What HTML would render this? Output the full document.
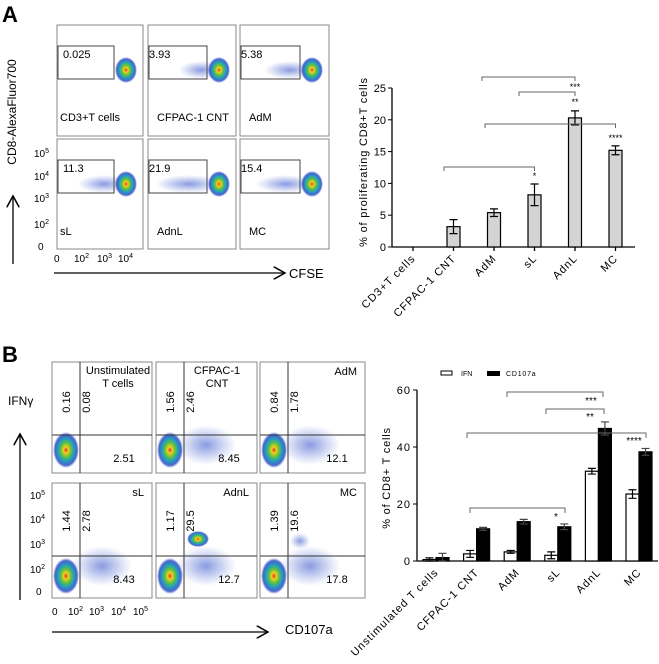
<!DOCTYPE html>
<html><head><meta charset="utf-8"><style>
body{margin:0;background:#fff}
svg{display:block;font-family:"Liberation Sans",sans-serif}
</style></head><body>
<svg id="s" width="659" height="664" viewBox="0 0 659 664">
<defs>
<radialGradient id="blob">
<stop offset="0" stop-color="#e0302a"/><stop offset="0.18" stop-color="#f0d020"/><stop offset="0.4" stop-color="#60c040"/><stop offset="0.62" stop-color="#20a0c0"/><stop offset="0.85" stop-color="#2040c0" stop-opacity="0.8"/><stop offset="1" stop-color="#3050d0" stop-opacity="0"/>
</radialGradient>
<radialGradient id="haze">
<stop offset="0" stop-color="#2848c8" stop-opacity="0.55"/><stop offset="1" stop-color="#4060d0" stop-opacity="0"/>
</radialGradient>
<marker id="ar" markerWidth="10" markerHeight="10" refX="9" refY="5" orient="auto"><path d="M0,0 L9,5 L0,10" fill="none" stroke="#000" stroke-width="1.2"/></marker>
</defs>
<g id="flowA"></g>
<g id="flowB"></g>
<g id="chartA"></g>
<g id="chartB"></g>
</svg>
<script>
const NS="http://www.w3.org/2000/svg";
function mk(p,t,a,txt){const e=document.createElementNS(NS,t);for(const k in a)e.setAttribute(k,a[k]);if(txt!==undefined)e.textContent=txt;p.appendChild(e);return e;}
const S=document.getElementById('s');

// ---------- Chart A data ----------
const catsA=["CD3+T cells","CFPAC-1 CNT","AdM","sL","AdnL","MC"];
const valsA=[0,3.2,5.4,8.2,20.3,15.2];
const errsA=[0,1.1,0.6,1.7,1.1,0.7];
const ticksA=[0,5,10,15,20,25];
// ---------- Chart B data ----------
const catsB=["Unstimulated T cells","CFPAC-1 CNT","AdM","sL","AdnL","MC"];
const ifnB=[0.5,2.5,3.2,2.0,31.5,23.5];
const ifnErrB=[0.6,1.2,0.5,1.2,1.0,1.5];
const cdB=[1.2,11.3,13.8,12.0,46.5,38.3];
const cdErrB=[1.5,0.5,0.8,1.0,2.3,1.2];
const ticksB=[0,20,40,60];

// ---------- Chart A ----------
(function(){
const g=document.getElementById('chartA');
const x0=392,x1=635,y0=247,ytop=88,max=25;
const y=v=>y0-(v/max)*(y0-ytop);
const x=i=>413+i*40.5;
let ax=mk(g,'line',{x1:x0,y1:y0,x2:x0,y2:ytop,stroke:'#000','stroke-width':1.3});

let xa=mk(g,'line',{x1:x0,y1:y0,x2:x1,y2:y0,stroke:'#000','stroke-width':1.3});

ticksA.forEach(t=>{mk(g,'line',{x1:x0-4,y1:y(t),x2:x0,y2:y(t),stroke:'#000'});
 const tl=mk(g,'text',{x:x0-6,y:y(t)+4,'text-anchor':'end','font-size':11},t);
 });
const yt=mk(g,'text',{transform:'translate(367,162) rotate(-90)','text-anchor':'middle','font-size':11,'letter-spacing':'0.8'},'% of proliferating CD8+T cells');

catsA.forEach((c,i)=>{
 const cx=x(i);mk(g,'line',{x1:cx,y1:y0,x2:cx,y2:y0+4,stroke:'#000','stroke-width':1.3});
 if(valsA[i]>0){const b=mk(g,'rect',{x:cx-6.5,y:y(valsA[i]),width:13,height:y0-y(valsA[i]),fill:'#d4d4d4',stroke:'#000','stroke-width':1.2});
  
  const e1=y(valsA[i]+errsA[i]),e2=y(valsA[i]-errsA[i]);
  mk(g,'path',{d:`M${cx},${e1}V${e2}M${cx-4},${e1}H${cx+4}M${cx-4},${e2}H${cx+4}`,stroke:'#000','stroke-width':1.2,fill:'none'});}
 const l=mk(g,'text',{transform:`translate(${cx+3},${y0+12}) rotate(-45)`,'text-anchor':'end','font-size':11,'letter-spacing':'1'},c);
 
});
const br=[[1.7,4,77,'***',90],[2.6,4,92,'**',105],[1.8,5,124,'****',141],[0.75,3,167,'*',179]];
br.forEach(b=>{const a=x(0)+b[0]*40.5-0.5*40.5+20,xe=x(b[1]);const xs=b[0]===1.7?482:b[0]===2.6?519:b[0]===1.8?485:444;
 const p=mk(g,'path',{d:`M${xs},${b[2]+4}V${b[2]}H${xe}V${b[2]+4}`,stroke:'#666',fill:'none'});
 
 mk(g,'text',{x:xe,y:b[4],'text-anchor':'middle','font-size':9},b[3]);});
})();

// ---------- Chart B ----------
(function(){
const g=document.getElementById('chartB');
const x0=417,x1=658,y0=561,ytop=390,max=60;
const y=v=>y0-(v/max)*(y0-ytop);
const x=i=>436+i*40.6;
let ax=mk(g,'line',{x1:x0,y1:y0,x2:x0,y2:ytop,stroke:'#000','stroke-width':1.3});

let xa=mk(g,'line',{x1:x0,y1:y0,x2:x1,y2:y0,stroke:'#000','stroke-width':1.3});

ticksB.forEach(t=>{mk(g,'line',{x1:x0-4,y1:y(t),x2:x0,y2:y(t),stroke:'#000'});
 const tl=mk(g,'text',{x:x0-6,y:y(t)+4,'text-anchor':'end','font-size':11,'letter-spacing':'1'},t);
 });
const yt=mk(g,'text',{transform:'translate(390,478) rotate(-90)','text-anchor':'middle','font-size':11,'letter-spacing':'0.8'},'% of CD8+ T cells');

function bar(cx,v,e,fill,nm){const b=mk(g,'rect',{x:cx-6.5,y:y(v),width:13,height:y0-y(v),fill:fill,stroke:'#000','stroke-width':1.2});
 
 const e1=y(v+e),e2=y(Math.max(0,v-e));
 mk(g,'path',{d:`M${cx},${e1}V${e2}M${cx-4},${e1}H${cx+4}M${cx-4},${e2}H${cx+4}`,stroke:fill==='#000'?'#444':'#000','stroke-width':1.2,fill:'none'});}
catsB.forEach((c,i)=>{const cx=x(i);
 bar(cx-6.5,ifnB[i],ifnErrB[i],'#fff','bar-ifn');
 bar(cx+6.5,cdB[i],cdErrB[i],'#000','bar-cd107a');
 const l=mk(g,'text',{transform:`translate(${cx+3},${y0+12}) rotate(-45)`,'text-anchor':'end','font-size':11,'letter-spacing':'1'},c);
 });
const lg=mk(g,'g',{});
const le1=mk(lg,'g',{});
mk(le1,'rect',{x:441,y:371,width:11,height:4,fill:'#fff',stroke:'#000'});mk(le1,'text',{x:461,y:376,'font-size':7},'IFN');
const le2=mk(lg,'g',{});
mk(le2,'rect',{x:487,y:371,width:13,height:5,fill:'#000'});mk(le2,'text',{x:506,y:376,'font-size':7,'letter-spacing':'0.8'},'CD107a');
const br=[[507,603,392,591,404,'***'],[546,604,409,590,420,'**'],[467,646,433,634,444,'****'],[470,565,508,556,520,'*']];
br.forEach(b=>{const p=mk(g,'path',{d:`M${b[0]},${b[2]+5}V${b[2]}H${b[1]}V${b[2]+5}`,stroke:'#666',fill:'none'});
 
 mk(g,'text',{x:b[3],y:b[4],'text-anchor':'middle','font-size':10},b[5]);});
})();

// ---------- Flow panel A ----------
(function(){
const g=document.getElementById('flowA');
mk(g,'text',{x:2,y:22,'font-size':22,'font-weight':'bold'},'A');
const cols=[[57,143],[148,236],[240,329]],rows=[[25,136],[139,249]];
const names=[["0.025","CD3+T cells"],["3.93","CFPAC-1 CNT"],["5.38","AdM"],["11.3","sL"],["21.9","AdnL"],["15.4","MC"]];
const spread=[0,18,22,22,30,26];
let k=0;
rows.forEach(r=>cols.forEach(c=>{
 const pg=mk(g,'g',{});
 mk(pg,'rect',{x:c[0],y:r[0],width:c[1]-c[0],height:r[1]-r[0],fill:'#fff',stroke:'#888'});
 const gy=r[0]+21,gx=c[0]+1,gw=c[1]-c[0]-30;
 const cx=c[0]+gw+13,cy=r[0]+45;
 if(spread[k])mk(pg,'ellipse',{cx:cx-spread[k],cy:cy,rx:spread[k]+4,ry:9,fill:'url(#haze)'});
 mk(pg,'ellipse',{cx:cx,cy:cy,rx:11,ry:13,fill:'url(#blob)'});
 mk(pg,'rect',{x:gx,y:gy,width:gw,height:33,fill:'none',stroke:'#444'});
 mk(pg,'text',{x:gx+(k%3===0?5:0),y:gy+12,'font-size':11},names[k][0]);
 mk(pg,'text',{x:c[0]+(k%3===0?3:9),y:r[0]+96,'font-size':11},names[k][1]);
 k++;}));
[["10","5",157],["10","4",180],["10","3",202],["10","2",228]].forEach(t=>{const e=mk(g,'text',{x:34,y:t[2],'font-size':10},t[0]);mk(e,'tspan',{dy:-4,'font-size':7},t[1]);});
mk(g,'text',{x:38,y:250,'font-size':10},'0');
mk(g,'text',{x:54,y:262,'font-size':10},'0');
[[74,"2"],[97,"3"],[118,"4"]].forEach(t=>{const e=mk(g,'text',{x:t[0],y:262,'font-size':10},'10');mk(e,'tspan',{dy:-4,'font-size':7},t[1]);});
const yt=mk(g,'text',{transform:'translate(16,112) rotate(-90)','text-anchor':'middle','font-size':12},'CD8-AlexaFluor700');

mk(g,'line',{x1:13,y1:264,x2:13,y2:196,stroke:'#000','stroke-width':1.3,'marker-end':'url(#ar)'});
mk(g,'line',{x1:54,y1:273,x2:285,y2:273,stroke:'#000','stroke-width':1.3,'marker-end':'url(#ar)'});
const xt=mk(g,'text',{x:289,y:278,'font-size':13},'CFSE');
})();

// ---------- Flow panel B ----------
(function(){
const g=document.getElementById('flowB');
mk(g,'text',{x:2,y:362,'font-size':22,'font-weight':'bold'},'B');
const cols=[[52,152],[156,257],[260,365]],rows=[[362,473],[483,598]];
const names=[["Unstimulated","T cells"],["CFPAC-1","CNT"],["AdM",""],["sL",""],["AdnL",""],["MC",""]];
const q=[["0.16","0.08","2.51"],["1.56","2.46","8.45"],["0.84","1.78","12.1"],["1.44","2.78","8.43"],["1.17","29.5","12.7"],["1.39","19.6","17.8"]];
let k=0;
rows.forEach(r=>cols.forEach(c=>{
 const pg=mk(g,'g',{});
 mk(pg,'rect',{x:c[0],y:r[0],width:c[1]-c[0],height:r[1]-r[0],fill:'#fff',stroke:'#888'});
 const vx=c[0]+28,hy=r[0]+73,w=c[1]-c[0];
 if(k>0)mk(pg,'ellipse',{cx:vx+22,cy:hy+10,rx:30,ry:20,fill:'url(#haze)'});
 if(k===4)mk(pg,'ellipse',{cx:vx+14,cy:hy-17,rx:11,ry:8,fill:'url(#blob)'});
 if(k===5)mk(pg,'ellipse',{cx:vx+12,cy:hy-15,rx:10,ry:8,fill:'url(#haze)'});
 const by=r===rows[0]?r[0]+88:r[0]+93;
 mk(pg,'ellipse',{cx:c[0]+14,cy:by,rx:13,ry:18,fill:'url(#blob)'});
 mk(pg,'line',{x1:vx,y1:r[0],x2:vx,y2:r[1],stroke:'#333'});
 mk(pg,'line',{x1:c[0],y1:hy,x2:c[1],y2:hy,stroke:'#333'});
 mk(pg,'text',{transform:`translate(${c[0]+18},${r[0]+(k<3?40:38)}) rotate(-90)`,'text-anchor':'middle','font-size':11},q[k][0]);
 mk(pg,'text',{transform:`translate(${vx+10},${r[0]+(k<3?40:38)}) rotate(-90)`,'text-anchor':'middle','font-size':11},q[k][1]);
 mk(pg,'text',{x:c[1]-28,y:hy+27,'text-anchor':'middle','font-size':11},q[k][2]);
 if(names[k][1]){mk(pg,'text',{x:c[0]+(k===0?66:61),y:r[0]+12,'text-anchor':'middle','font-size':11},names[k][0]);mk(pg,'text',{x:c[0]+(k===0?66:61),y:r[0]+25,'text-anchor':'middle','font-size':11},names[k][1]);}
 else mk(pg,'text',{x:c[1]-8,y:r[0]+13,'text-anchor':'end','font-size':11},names[k][0]);
 k++;}));
[["10","5",499],["10","4",523],["10","3",548],["10","2",573]].forEach(t=>{const e=mk(g,'text',{x:30,y:t[2],'font-size':10},t[0]);mk(e,'tspan',{dy:-4,'font-size':7},t[1]);});
mk(g,'text',{x:36,y:595,'font-size':10},'0');
mk(g,'text',{x:52,y:615,'font-size':10},'0');
[[68,"2"],[89,"3"],[111,"4"],[133,"5"]].forEach(t=>{const e=mk(g,'text',{x:t[0],y:615,'font-size':10},'10');mk(e,'tspan',{dy:-4,'font-size':7},t[1]);});
const yt=mk(g,'text',{x:8,y:405,'font-size':12},'IFNγ');
mk(g,'line',{x1:20,y1:600,x2:20,y2:434,stroke:'#000','stroke-width':1.3,'marker-end':'url(#ar)'});
mk(g,'line',{x1:52,y1:632,x2:268,y2:632,stroke:'#000','stroke-width':1.3,'marker-end':'url(#ar)'});
const xt=mk(g,'text',{x:285,y:634,'font-size':13},'CD107a');
})();
</script>
</body></html>
